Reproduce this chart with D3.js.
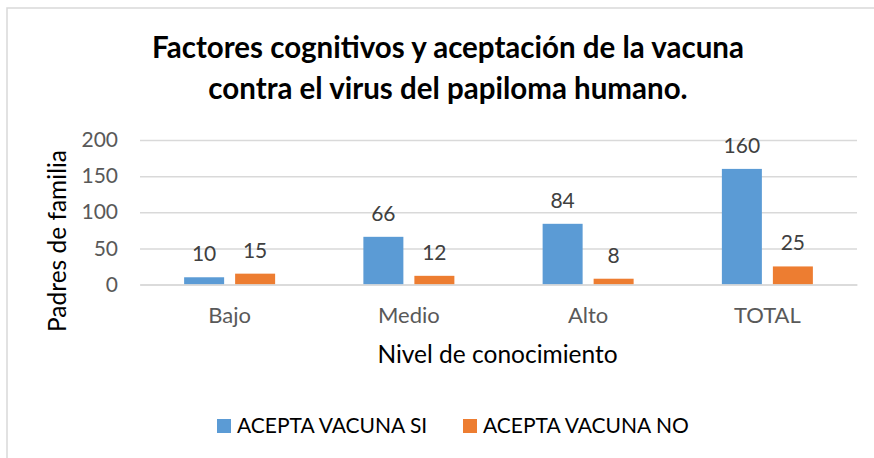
<!DOCTYPE html>
<html>
<head>
<meta charset="utf-8">
<script src="https://cdn.jsdelivr.net/npm/d3@7"></script>
<style>
	body { margin: 0; background: #fff; }
	text { font-family: Lato, "Open Sans", sans-serif; }
</style>
</head>
<body>
<div id="graph"></div>
<script>
// data
const categories = ["Bajo", "Medio", "Alto", "TOTAL"];
const seriesNames = ["ACEPTA VACUNA SI", "ACEPTA VACUNA NO"];
const aceptaSi = [10, 66, 84, 160];
const aceptaNo = [15, 12, 8, 25];
const yTicks = [0, 50, 100, 150, 200];
const colors = ["#5B9BD5", "#ED7D31"];

const titleLines = [
	"Factores cognitivos y aceptación de la vacuna",
	"contra el virus del papiloma humano.",
];
const xTitle = "Nivel de conocimiento";
const yTitle = "Padres de familia";

function ColumnChart() {
	const width = 874;
	const height = 458;
	const marginLeft = 140;
	const plotRight = 857;
	const plotTop = 140;
	const plotBottom = 284.5;

	const series = [aceptaSi, aceptaNo];

	const xScale = d3.scaleBand(categories, [marginLeft, plotRight]);
	const xInner = d3
		.scaleBand(d3.range(series.length), [0, 91])
		.paddingInner(11 / 51);
	const groupOffset = (xScale.bandwidth() - 91) / 2;
	const yScale = d3.scaleLinear([0, 200], [plotBottom, plotTop]);

	const svg = d3
		.select("#graph")
		.append("svg")
		.attr("width", width)
		.attr("height", height)
		.attr("viewBox", [0, 0, width, height]);

	// chart area border (only left and top show in the picture)
	svg
		.append("rect")
		.attr("x", 7)
		.attr("y", 8)
		.attr("width", width + 20)
		.attr("height", height + 20)
		.attr("fill", "none")
		.attr("stroke", "#D9D9D9")
		.attr("stroke-width", 1.5);

	// title
	svg
		.append("text")
		.attr("text-anchor", "middle")
		.attr("font-weight", "bold")
		.attr("font-size", 29.5)
		.attr("fill", "#000")
		.selectAll("tspan")
		.data(titleLines)
		.join("tspan")
		.attr("x", 448)
		.attr("y", (_, i) => 58 + i * 41)
		.text((d) => d);

	// y axis + gridlines
	svg
		.append("g")
		.attr("transform", `translate(${marginLeft},0)`)
		.call(
			d3
				.axisLeft(yScale)
				.tickValues(yTicks)
				.tickSize(-(plotRight - marginLeft))
				.tickPadding(22)
		)
		.call((g) => g.select(".domain").remove())
		.call((g) =>
			g.selectAll(".tick line").attr("stroke", "#D9D9D9").attr("stroke-width", 1.5)
		)
		.call((g) =>
			g
				.selectAll(".tick text")
				.attr("font-size", 21)
				.attr("font-family", "Lato")
				.attr("fill", "#595959")
		);

	// bars
	const groups = svg
		.append("g")
		.selectAll("g")
		.data(categories)
		.join("g")
		.attr("transform", (d) => `translate(${xScale(d) + groupOffset},0)`);

	groups
		.selectAll("rect")
		.data((d, i) => series.map((s, j) => ({ j, v: s[i] })))
		.join("rect")
		.attr("x", (d) => xInner(d.j))
		.attr("y", (d) => yScale(d.v))
		.attr("width", xInner.bandwidth())
		.attr("height", (d) => yScale(0) - yScale(d.v))
		.attr("fill", (d) => colors[d.j]);

	// data labels
	groups
		.selectAll("text")
		.data((d, i) => series.map((s, j) => ({ j, v: s[i] })))
		.join("text")
		.attr("x", (d) => xInner(d.j) + xInner.bandwidth() / 2)
		.attr("y", (d) => yScale(d.v) - 16)
		.attr("text-anchor", "middle")
		.attr("font-size", 21)
		.attr("fill", "#404040")
		.text((d) => d.v);

	// category axis
	svg
		.append("g")
		.attr("transform", `translate(0,${plotBottom})`)
		.call(d3.axisBottom(xScale).tickSize(0).tickPadding(23))
		.call((g) =>
			g.select(".domain").attr("stroke", "#D9D9D9").attr("stroke-width", 1.5)
		)
		.call((g) =>
			g
				.selectAll(".tick text")
				.attr("font-size", 22)
				.attr("font-family", "Lato")
				.attr("fill", "#595959")
		);

	// axis titles
	svg
		.append("text")
		.attr("x", 497.5)
		.attr("y", 363)
		.attr("text-anchor", "middle")
		.attr("font-size", 24.5)
		.attr("fill", "#000")
		.text(xTitle);

	svg
		.append("text")
		.attr("transform", "translate(66,241) rotate(-90)")
		.attr("text-anchor", "middle")
		.attr("font-size", 24.5)
		.attr("fill", "#000")
		.text(yTitle);

	// legend
	const legendX = [217, 463];
	const legend = svg
		.append("g")
		.selectAll("g")
		.data(seriesNames)
		.join("g")
		.attr("transform", (d, i) => `translate(${legendX[i]},419)`);

	legend
		.append("rect")
		.attr("width", 14)
		.attr("height", 14)
		.attr("fill", (d, i) => colors[i]);

	legend
		.append("text")
		.attr("x", 20)
		.attr("y", 14)
		.attr("font-size", 21)
		.attr("fill", "#000")
		.text((d) => d);
}

ColumnChart();
</script>
</body>
</html>
